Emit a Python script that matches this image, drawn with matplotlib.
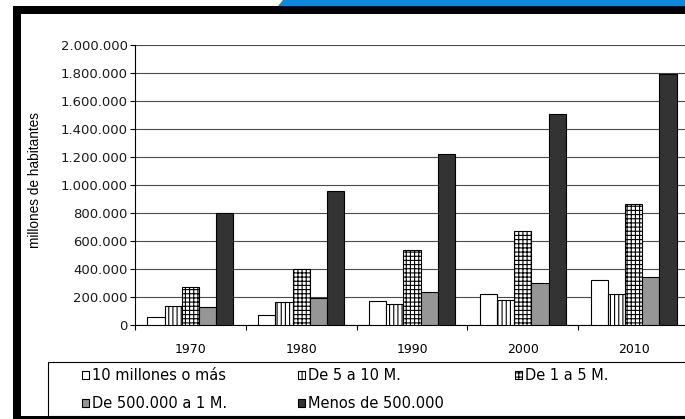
# Poblacion urbana por tamano de ciudad - barras agrupadas

import numpy as np
import matplotlib
matplotlib.use('Agg')
from matplotlib import pyplot as plt
from matplotlib.patches import Rectangle, Polygon
from matplotlib.ticker import FuncFormatter, MultipleLocator

plt.rcParams['font.family'] = ['DejaVu Sans']
plt.rcParams['hatch.linewidth'] = 0.8

# Datos

years = ['1970', '1980', '1990', '2000', '2010']
series_names = ['10 millones o más', 'De 5 a 10 M.', 'De 1 a 5 M.',
                'De 500.000 a 1 M.', 'Menos de 500.000']

diez_millones = [55000, 72000, 168000, 225000, 318000]
cinco_a_diez = [135000, 165000, 148000, 178000, 222000]
uno_a_cinco = [270000, 397000, 535000, 675000, 862000]
medio_a_uno = [127000, 195000, 233000, 297000, 345000]
menos_medio = [800000, 957000, 1220000, 1505000, 1790000]

series = [diez_millones, cinco_a_diez, uno_a_cinco, medio_a_uno, menos_medio]

# Estilos de cada serie
colors = ['white', 'white', 'white', '#969696', '#333333']
hatches = [None, '||||', '++++', None, None]

W, H = 685, 419


def fx(x):
    return x / W


def fy(y):
    return 1 - y / H


fig = plt.figure(figsize=(W / 100, H / 100), dpi=100)

# marco negro y franja azul
fig.patches.append(Polygon([(fx(278), fy(6)), (fx(283), fy(0)), (fx(690), fy(0)), (fx(690), fy(6))],
                           closed=True, transform=fig.transFigure, facecolor='#0a8ad8', edgecolor='none'))
fig.patches.append(Rectangle((fx(13), fy(14)), fx(690) - fx(13), fy(6) - fy(14),
                             transform=fig.transFigure, facecolor='black', edgecolor='none'))
fig.patches.append(Rectangle((fx(13), fy(419)), fx(21) - fx(13), fy(6) - fy(419),
                             transform=fig.transFigure, facecolor='black', edgecolor='none'))
fig.patches.append(Rectangle((fx(13), fy(420)), fx(690) - fx(13), fy(416) - fy(420),
                             transform=fig.transFigure, facecolor='black', edgecolor='none'))

ax = fig.add_axes([fx(135), fy(325), fx(689) - fx(135), fy(45) - fy(325)])

x = np.arange(len(years))
width = 0.155

handles = []
for i, vals in enumerate(series):
    b = ax.bar(x + (i - 2) * width, vals, width, color=colors[i], hatch=hatches[i],
               edgecolor='black', linewidth=0.8, label=series_names[i], zorder=3)
    handles.append(b)

ax.set_xlim(-0.5, len(years) - 0.5)
ax.set_ylim(0, 2000000)
ax.yaxis.set_major_locator(MultipleLocator(200000))
ax.yaxis.set_major_formatter(FuncFormatter(lambda v, p: f'{int(v):,}'.replace(',', '.')))

ax.grid(axis='y', color='#4a4a4a', linewidth=0.8, zorder=0)
ax.set_axisbelow(True)

for s in ['top', 'right']:
    ax.spines[s].set_visible(False)
ax.spines['left'].set_linewidth(0.8)
ax.spines['bottom'].set_linewidth(0.8)

ax.set_xticks(x)
ax.set_xticklabels(years)
ax.set_xticks(np.arange(-0.5, len(years)), minor=True)
ax.tick_params(axis='x', which='major', length=0, pad=13, labelsize=9)
ax.tick_params(axis='x', which='minor', length=3.6, width=0.8, direction='out')
ax.tick_params(axis='y', length=3.6, width=0.8, direction='out', pad=1.5, labelsize=9.5,
               labelcolor='#1a1a1a')

fig.text(fx(35), fy(180), 'millones de habitantes', rotation=90, ha='center', va='center',
         fontsize=9.8, family='Liberation Sans')

# caja de la leyenda
fig.patches.append(Rectangle((fx(48), fy(416)), fx(700) - fx(48), fy(362) - fy(416),
                             transform=fig.transFigure, facecolor='white', edgecolor='black', linewidth=0.8))

order = [0, 3, 1, 4, 2]
leg = fig.legend([handles[i] for i in order], [series_names[i] for i in order],
                 ncol=3, loc='upper left', bbox_to_anchor=(fx(82), fy(368)),
                 frameon=False, fontsize=10.5, handlelength=0.5, handleheight=0.5,
                 handletextpad=0.2, columnspacing=4.85, labelspacing=0.88,
                 borderpad=0, borderaxespad=0)

plt.savefig('out.png', dpi=100)
